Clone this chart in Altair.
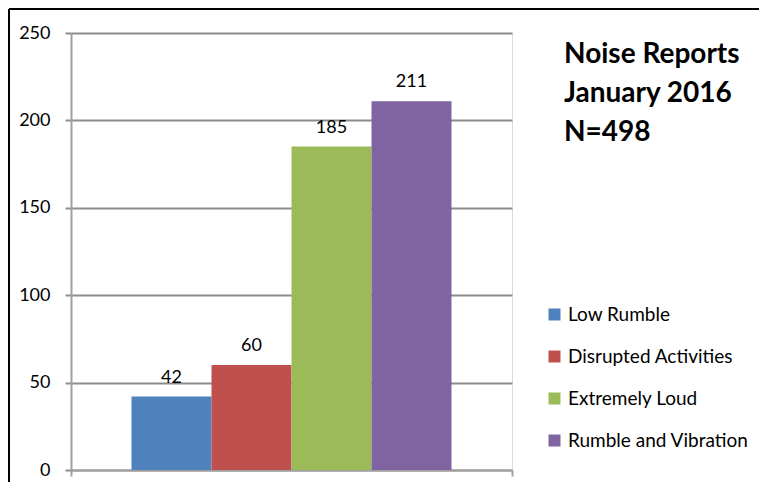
import altair as alt
import pandas as pd

categories = ["Low Rumble", "Disrupted Activities", "Extremely Loud", "Rumble and Vibration"]
values = [42, 60, 185, 211]
colors = ["#4F81BD", "#C0504D", "#9BBB59", "#8064A2"]
y_ticks = [0, 50, 100, 150, 200, 250]
title_lines = "Noise Reports\nJanuary 2016\nN=498"

FONT = "Lato"
W, H = 441, 437

df = pd.DataFrame({"group": ["Jan 2016"] * 4, "Category": categories, "Count": values})

base = alt.Chart(df).encode(
    x=alt.X("group:N", title=None,
            scale=alt.Scale(paddingInner=0, paddingOuter=0),
            axis=alt.Axis(labels=False, tickBand="extent", tickSize=6, tickColor="#a0a0a0",
                          tickWidth=2, domainColor="#a0a0a0", domainWidth=2, grid=False)),
    xOffset=alt.XOffset("Category:N", sort=categories,
                        scale=alt.Scale(paddingInner=0, paddingOuter=0.756)),
)

bars = base.mark_bar().encode(
    y=alt.Y("Count:Q", title=None,
            scale=alt.Scale(domain=[0, 250], nice=False),
            axis=alt.Axis(values=y_ticks, grid=True, gridColor="#8c8c8c", gridWidth=2,
                          tickSize=6, tickColor="#8c8c8c", tickWidth=2,
                          domainColor="#a0a0a0", domainWidth=2,
                          labelFont=FONT, labelFontSize=18, labelColor="black",
                          labelPadding=15)),
    color=alt.Color("Category:N", sort=categories,
                    scale=alt.Scale(domain=categories, range=colors),
                    legend=alt.Legend(orient="none", legendX=474, legendY=272, title=None,
                                      symbolType="square", symbolSize=144, symbolStrokeWidth=0,
                                      symbolOpacity=1, labelFont=FONT, labelFontSize=19,
                                      labelColor="black", labelOffset=4, rowPadding=22,
                                      labelLimit=0)),
)

labels = base.mark_text(baseline="alphabetic", dy=-14, font=FONT, fontSize=18, color="black").encode(
    y=alt.Y("Count:Q"),
    text=alt.Text("Count:Q"),
)

one = pd.DataFrame({"t": [title_lines]})
title = alt.Chart(one).mark_text(align="left", baseline="alphabetic", lineBreak="\n",
                                 font=FONT, fontSize=28, fontWeight="bold",
                                 lineHeight=39, color="black").encode(
    x=alt.value(493), y=alt.value(30), text="t:N")

border_left = alt.Chart(one).mark_rule(color="black", strokeWidth=2).encode(
    x=alt.value(-62), y=alt.value(-24), y2=alt.value(460))
border_top = alt.Chart(one).mark_rule(color="black", strokeWidth=2).encode(
    x=alt.value(-62), x2=alt.value(700), y=alt.value(-24))

chart = alt.layer(bars, labels, title, border_left, border_top).properties(
    width=W, height=H,
    autosize=alt.AutoSizeParams(type="none"),
    padding={"left": 63, "top": 25, "right": 247, "bottom": 12},
).configure_view(stroke=None).configure(background="white")

chart.save("out.html", embed_options={"renderer": "svg", "actions": False})
